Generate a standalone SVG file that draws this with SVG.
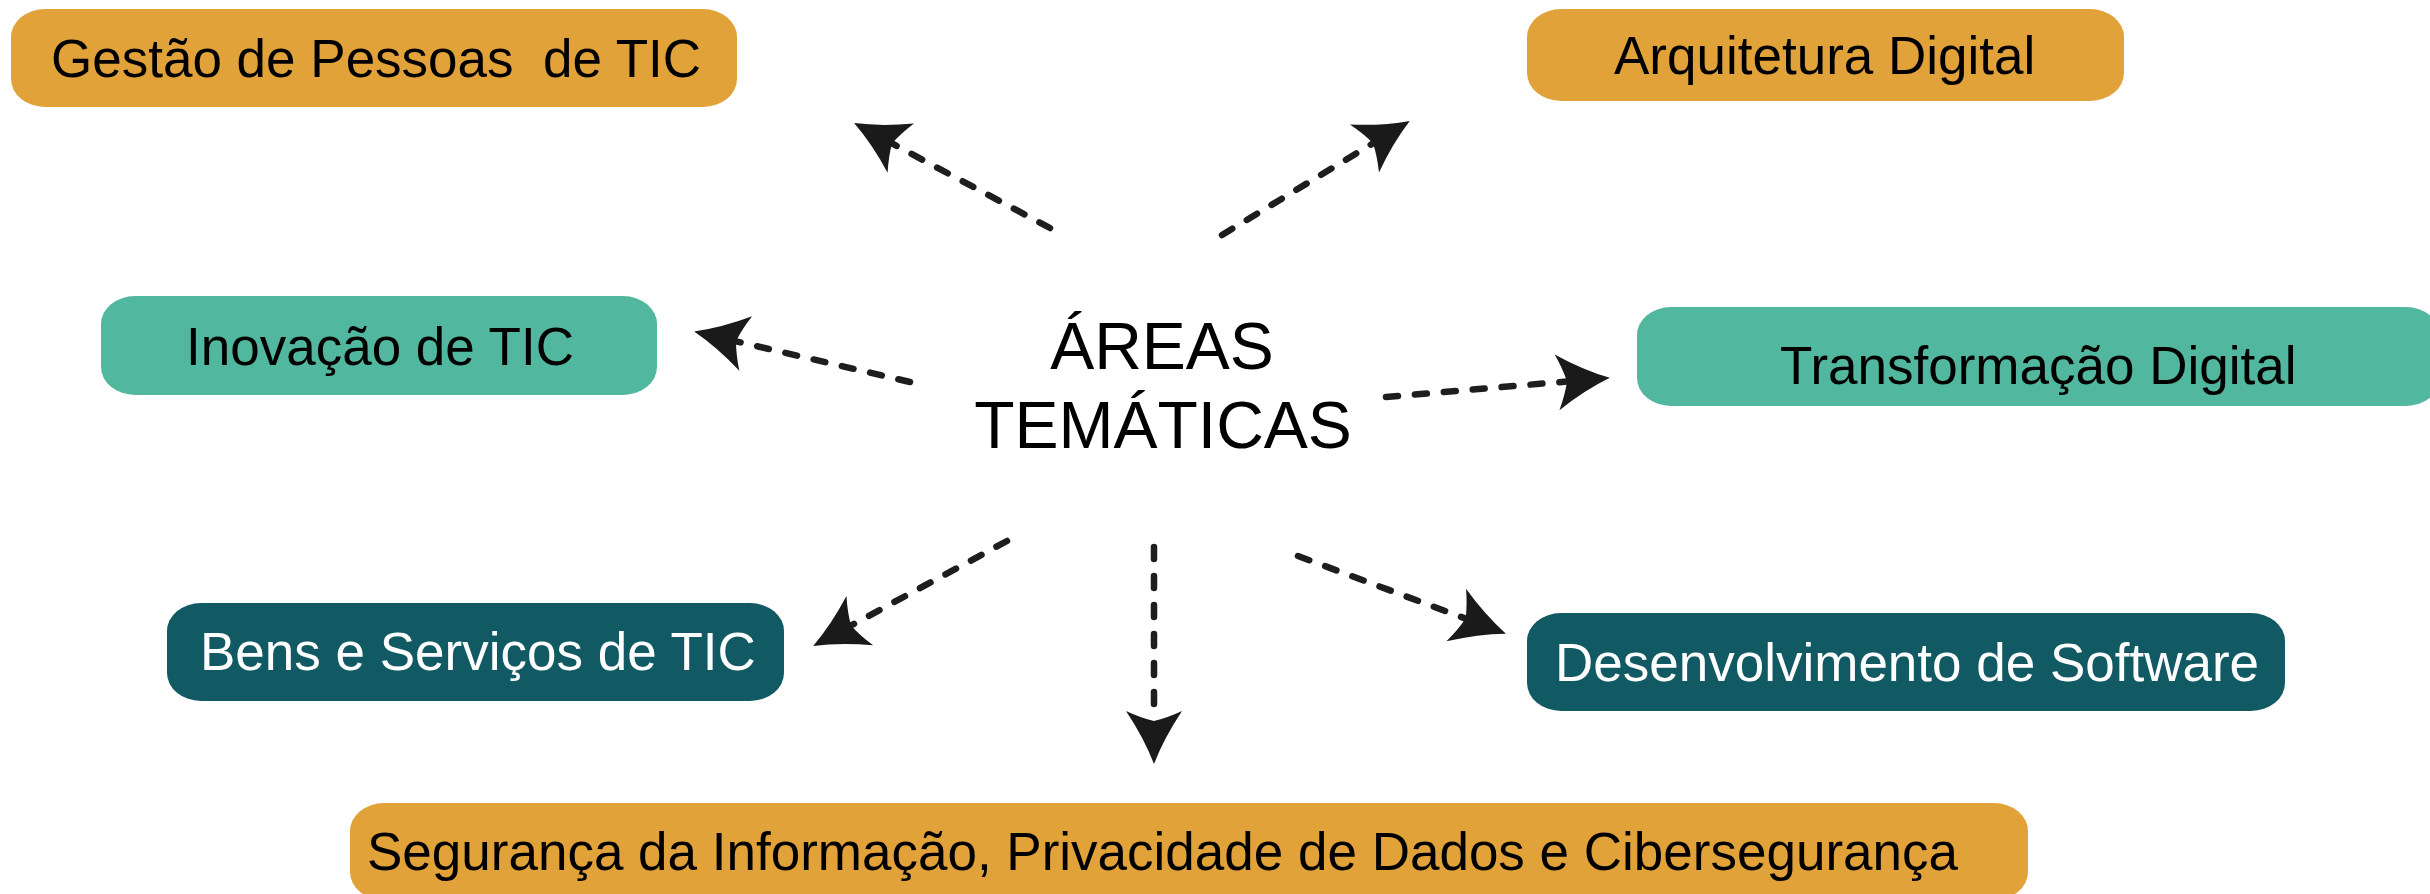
<svg xmlns="http://www.w3.org/2000/svg" width="2430" height="894" viewBox="0 0 2430 894">
<style>
.box-o{fill:#E1A23A}
.box-g{fill:#51B79E}
.box-d{fill:#115A63}
.t{font-family:"Liberation Sans",Arial,sans-serif;font-size:53px;fill:#000}
.tw{font-family:"Liberation Sans",Arial,sans-serif;font-size:53px;fill:#fff}
.c{font-family:"Liberation Sans",Arial,sans-serif;font-size:66px;fill:#000;text-anchor:middle}
.ln{fill:none;stroke:#1e1e1e;stroke-width:6.5;stroke-linecap:round;stroke-dasharray:12 17;marker-end:url(#ah)}
</style>
<defs>
<marker id="ah" markerUnits="userSpaceOnUse" orient="auto" refX="0" refY="0" markerWidth="70" markerHeight="70" viewBox="-20 -35 70 70" overflow="visible">
<path d="M43,0 Q17,-10 -10,-28 Q-3,-13 0,0 Q-3,13 -10,28 Q17,10 43,0 Z" fill="#1a1a1a"/>
</marker>
</defs>
<rect width="2430" height="894" fill="#fff"/>
<g id="node-gestao">
<rect class="box-o" x="11" y="9" width="726" height="98" rx="34" ry="28"/>
<text class="t" x="51" y="77" xml:space="preserve">Gestão de Pessoas  de TIC</text>
</g>
<g id="node-arquitetura">
<rect class="box-o" x="1527" y="9" width="597" height="92" rx="34" ry="28"/>
<text class="t" x="1614" y="74">Arquitetura Digital</text>
</g>
<g id="node-inovacao">
<rect class="box-g" x="101" y="296" width="556" height="99" rx="34" ry="28"/>
<text class="t" x="186" y="365">Inovação de TIC</text>
</g>
<g id="node-transformacao">
<rect class="box-g" x="1637" y="307" width="803" height="99" rx="34" ry="28"/>
<text class="t" x="1780" y="384">Transformação Digital</text>
</g>
<g id="node-centro">
<text class="c" x="1162" y="369">ÁREAS</text>
<text class="c" x="1163" y="448">TEMÁTICAS</text>
</g>
<g id="node-bens">
<rect class="box-d" x="167" y="603" width="617" height="98" rx="34" ry="28"/>
<text class="tw" x="200" y="670">Bens e Serviços de TIC</text>
</g>
<g id="node-desenvolvimento">
<rect class="box-d" x="1527" y="613" width="758" height="98" rx="34" ry="28"/>
<text class="tw" x="1555" y="681">Desenvolvimento de Software</text>
</g>
<g id="node-seguranca">
<rect class="box-o" x="350" y="803" width="1678" height="97" rx="34" ry="28"/>
<text class="t" x="367" y="870">Segurança da Informação, Privacidade de Dados e Cibersegurança</text>
</g>
<g id="connectors">
<line class="ln" x1="1050" y1="228" x2="892" y2="143.4"/>
<line class="ln" x1="1222" y1="235" x2="1373" y2="143.3"/>
<line class="ln" x1="910" y1="382" x2="736" y2="341.3"/>
<line class="ln" x1="1386" y1="397" x2="1567" y2="381.5"/>
<line class="ln" x1="1007" y1="541" x2="851" y2="625.5"/>
<line class="ln" x1="1154" y1="547" x2="1154" y2="721"/>
<line class="ln" x1="1298" y1="556" x2="1465.6" y2="618.6"/>
</g>
</svg>
